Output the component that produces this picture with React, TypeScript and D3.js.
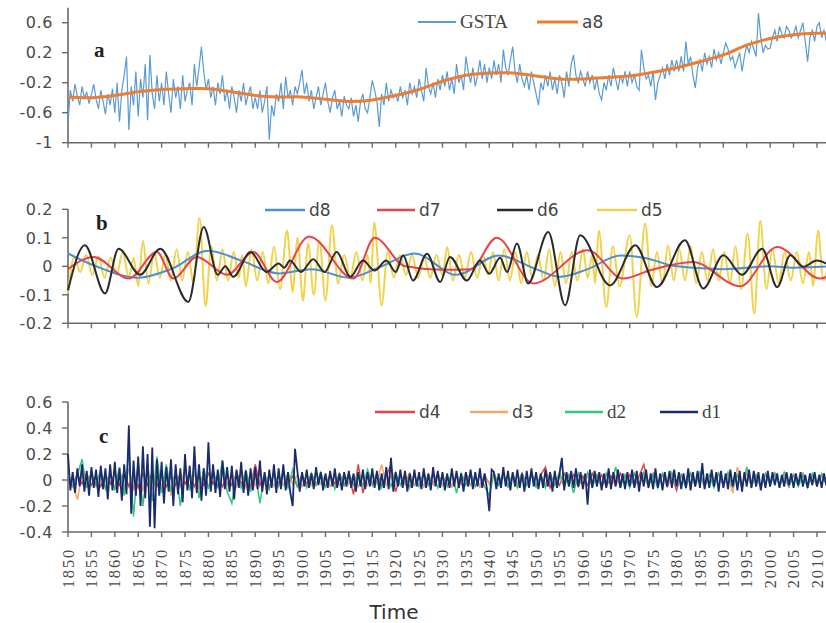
import React from 'react';
import * as d3 from 'd3';

const W = 826;
const H = 623;

// ---------- x axis ----------
const tickYears = d3.range(1850, 2011, 5);

// ---------- panel a ----------
// GSTA anomaly, hundredths of a degree, one value every half year from 1850.0
const gstaHundredths = [
  -74, -30, -45, -22, -38, -50, -25, -40, -33, -48, -36, -22, -42, -55, -30, -45, -62, -35, -50, -28,
  -60, -20, -72, -30, -10, 15, -83, -25, -50, -5, -65, -15, -40, 5, -70, 17, -35, -55, -10, -45,
  -20, -50, -5, -35, -60, -15, -40, -25, -55, -10, -45, -30, -20, -50, 5, -25, 0, 28, -5, -30,
  -15, -40, -25, -50, -20, -35, -10, -45, -30, -55, -25, -40, -60, -30, -45, -20, -50, -35, -25, -55,
  -40, -55, -30, -60, -45, -25, -96, -50, -65, -35, -45, -20, -55, -12, -40, -30, -50, -25, -35, -20,
  -3, -35, -20, -45, -30, -55, -40, -25, -50, -35, -20, -45, -60, -40, -30, -55, -45, -65, -38, -50,
  -55, -40, -65, -50, -72, -45, -35, -55, -60, -40, -17, -30, -45, -79, -35, -50, -20, -45, -30, -40,
  -35, -45, -25, -40, -30, -50, -20, -35, -25, -40, -15, -30, -45, 0, -25, -35, -20, -40, -15, -30,
  -10, -25, -5, -30, -15, -35, 5, -20, -10, -30, 15, -5, -20, 0, -25, -10, 10, -15, 5, -20,
  0, -15, 10, -10, 5, -20, 24, 0, -10, 10, 28, -5, -20, 5, -15, -25, -10, -30, -5, -20,
  -35, -50, -20, -30, -10, -25, -5, -30, -15, -35, -10, -20, -40, -5, -25, 5, 17, -10, -20, -5,
  -15, -25, -5, -20, -10, -30, -15, -35, -43, -20, -30, -10, -25, 0, -15, -30, -10, -20, -5, -25,
  -5, -20, -10, -25, -30, 24, 0, -15, -10, -25, -5, -43, -20, -10, 0, -15, 5, -10, 10, -5,
  10, -5, 15, -5, 35, 5, 15, -10, -27, 0, 10, -5, 20, 5, 15, 0, 25, 10, 20, 5,
  20, 33, 25, 10, 15, 0, 10, 20, -5, 15, 30, 20, 35, 25, 15, 73, 40, 20, 30, 25,
  26, 40, 50, 35, 55, 45, 40, 55, 50, 40, 45, 55, 40, 50, 60, 35, 8, 40, 50, 35,
  55, 60, 40, 50, 35, 45,
];
const a8Years = [1850, 1855, 1860, 1865, 1870, 1875, 1880, 1885, 1890, 1895, 1900, 1905, 1910, 1915, 1920, 1925, 1930, 1935, 1940, 1945, 1950, 1955, 1960, 1965, 1970, 1975, 1980, 1985, 1990, 1995, 2000, 2005, 2010, 2013];
const a8Values = [-0.39, -0.40, -0.37, -0.32, -0.29, -0.28, -0.28, -0.32, -0.37, -0.39, -0.39, -0.42, -0.45, -0.43, -0.37, -0.29, -0.18, -0.10, -0.07, -0.07, -0.11, -0.15, -0.15, -0.13, -0.11, -0.06, 0.00, 0.08, 0.17, 0.30, 0.39, 0.44, 0.46, 0.46];
const aTicks = [-1, -0.6, -0.2, 0.2, 0.6];

// ---------- panel b (turning points: [year, value]) ----------
const d8Points = [
  [1850, 0.045], [1856, 0.0], [1865, -0.04], [1872, -0.01], [1880, 0.055], [1887, 0.02], [1895, -0.025],
  [1902, -0.01], [1910, -0.04], [1917, 0.0], [1924, 0.045], [1933, -0.03], [1942, 0.038], [1950, -0.01],
  [1955, -0.037], [1961, -0.01], [1968, 0.038], [1973, 0.03], [1980, 0.0], [1990, -0.01], [2000, 0.0],
  [2005, -0.005], [2013, 0.0],
];
const d7Points = [
  [1850, -0.01], [1855.5, 0.033], [1863, -0.043], [1869, 0.05], [1872.5, -0.043], [1877.5, 0.033], [1884, -0.03],
  [1889.6, 0.05], [1894.6, -0.055], [1901.5, 0.105], [1911, -0.043], [1915.5, 0.10], [1922, 0.0], [1930, -0.012],
  [1936, -0.01], [1941.6, 0.10], [1949.4, -0.06], [1961, 0.056], [1968.6, -0.043], [1974.4, -0.014],
  [1983.5, 0.015], [1993.6, -0.07], [2001.5, 0.068], [2010.7, -0.043], [2013, -0.03],
];
const d6Points = [
  [1850, -0.084], [1853.6, 0.074], [1857.9, -0.095], [1860.8, 0.062], [1865.4, -0.03], [1869.7, 0.062],
  [1875.7, -0.125], [1879.0, 0.138], [1882.0, -0.03], [1883.6, 0.0], [1885.3, -0.037], [1889.0, 0.05],
  [1892.4, -0.02], [1895.0, 0.01], [1896.2, -0.005], [1897.4, 0.02], [1899.8, -0.02], [1902.4, 0.025],
  [1904.8, -0.02], [1907.4, 0.05], [1910.3, -0.037], [1913.0, 0.02], [1915.5, -0.015], [1918.0, 0.02],
  [1920.0, -0.02], [1921.6, 0.039], [1923.7, -0.05], [1926.7, 0.044], [1929.5, -0.055], [1931.6, 0.033],
  [1935.2, -0.05], [1938.0, 0.02], [1940.0, -0.026], [1942.3, 0.03], [1943.8, -0.02], [1945.9, 0.08],
  [1948.3, -0.06], [1952.6, 0.12], [1956.2, -0.137], [1959.4, 0.109], [1965.8, -0.067], [1971.2, 0.074],
  [1975.8, -0.073], [1981.8, 0.091], [1985.7, -0.078], [1990.0, 0.039], [1994.0, -0.03], [1998.3, 0.062],
  [2001.5, -0.073], [2004.3, 0.039], [2007.0, -0.002], [2010.0, 0.02], [2013.0, 0.0],
];
const d5Points = [
  [1850.0, -0.095], [1851.3, 0.03], [1852.6, -0.02], [1853.9, 0.04], [1855.2, -0.03], [1856.5, 0.035],
  [1857.8, -0.04], [1859.1, 0.03], [1860.4, -0.03], [1861.7, 0.05], [1863.0, -0.04], [1864.0, 0.03],
  [1865.0, -0.07], [1866.0, 0.09], [1867.2, -0.06], [1868.4, 0.05], [1869.6, -0.04], [1870.8, 0.04],
  [1872.0, -0.05], [1873.2, 0.06], [1874.4, -0.05], [1875.6, 0.05], [1876.8, -0.06], [1878.1, 0.17],
  [1879.4, -0.14], [1880.6, 0.07], [1881.8, -0.05], [1883.0, 0.06], [1884.2, -0.05], [1885.4, 0.05],
  [1886.5, -0.04], [1887.2, 0.04], [1888.0, -0.07], [1889.2, 0.06], [1890.4, -0.05], [1891.6, 0.05],
  [1892.8, -0.06], [1894.0, 0.07], [1895.3, -0.08], [1896.8, 0.126], [1898.0, -0.09], [1899.0, 0.10],
  [1900.2, -0.12], [1901.3, 0.08], [1902.5, -0.10], [1903.7, 0.09], [1905.0, -0.12], [1906.4, 0.144],
  [1907.7, -0.06], [1909.0, 0.04], [1910.3, -0.04], [1911.6, 0.05], [1912.9, -0.05], [1914.0, 0.04],
  [1914.7, -0.06], [1915.4, 0.155], [1917.0, -0.137], [1918.3, 0.05], [1919.6, -0.04], [1920.9, 0.04],
  [1922.2, -0.03], [1923.5, 0.04], [1924.8, -0.04], [1926.1, 0.03], [1927.4, -0.04], [1928.7, 0.04],
  [1930.0, -0.03], [1931.0, 0.068], [1932.2, -0.05], [1933.5, 0.04], [1934.8, -0.04], [1936.1, 0.05],
  [1937.4, -0.04], [1938.7, 0.04], [1939.7, -0.03], [1940.8, 0.05], [1942.0, -0.05], [1943.2, 0.06],
  [1944.4, -0.05], [1945.6, 0.05], [1946.8, -0.06], [1948.0, 0.05], [1949.2, -0.04], [1950.4, 0.04],
  [1951.6, -0.05], [1952.8, 0.06], [1954.0, -0.07], [1955.2, 0.05], [1956.4, -0.06], [1957.6, 0.05],
  [1958.8, -0.05], [1960.0, 0.06], [1961.0, -0.04], [1962.0, 0.04], [1962.6, -0.06], [1963.4, 0.126],
  [1965.0, -0.143], [1966.4, 0.07], [1967.8, -0.07], [1970.0, 0.109], [1971.5, -0.178], [1973.3, 0.15],
  [1974.6, -0.07], [1975.8, 0.05], [1977.0, -0.06], [1978.2, 0.074], [1979.4, -0.05], [1980.6, 0.06],
  [1981.8, -0.05], [1983.0, 0.07], [1984.2, -0.06], [1985.4, 0.05], [1986.6, -0.05], [1987.8, 0.06],
  [1989.0, -0.05], [1990.2, 0.05], [1991.4, -0.06], [1992.6, 0.07], [1993.8, -0.08], [1995.2, 0.115],
  [1996.6, -0.166], [1997.9, 0.16], [1999.2, -0.08], [2000.5, 0.06], [2001.8, -0.06], [2003.1, 0.05],
  [2004.4, -0.05], [2005.7, 0.05], [2007.0, -0.06], [2008.3, 0.05], [2009.2, -0.07], [2010.2, 0.126],
  [2011.4, -0.05], [2012.5, 0.02],
];
const bTicks = [-0.2, -0.1, 0, 0.1, 0.2];

// ---------- panel c ----------
// d1: hundredths, one value every half year from 1850.0
const d1Hundredths = [
  20, -8, 6, -10, 9, -5, 12, -9, 7, -12, 10, -6, 8, -13, 11, -7, 9, -15, 12, -8,
  14, -10, 9, -16, 12, -11, 42, -26, 15, -12, 18, -20, 26, -14, 20, -36, 25, -37, 16, -12,
  14, -18, 10, -9, 16, -20, 12, -11, 9, -17, 20, -8, 11, -14, 26, -10, 12, -16, 9, -12,
  29, -9, 12, -10, 8, -13, 15, -7, 10, -9, 11, -15, 8, -6, 14, -10, 7, -12, 9, -8,
  10, -7, 15, -9, 6, -11, 8, -6, 12, -10, 9, -7, 12, -8, 6, -10, -20, 24, 7, -9,
  6, -5, 8, -6, 5, -7, 10, -4, 6, -8, 5, -6, 7, -5, 9, -6, 5, -8, 6, -5,
  7, -6, 5, -9, 6, -5, 8, -7, 6, -5, 9, -6, 7, -8, 5, -6, 10, -7, 17, -9,
  6, -5, 8, -6, 7, -9, 5, -6, 8, -5, 6, -7, 9, -6, 5, -8, 10, -5, 7, -6,
  6, -8, 5, -6, 9, -5, 7, -6, 5, -9, 6, -5, 8, -7, 6, -5, 9, -6, 5, -7,
  -24, 8, 6, -7, 5, -6, 10, -5, 7, -8, 6, -5, 8, -6, 5, -9, 7, -6, 9, -5,
  6, -7, 5, -6, 8, -5, 6, -9, 7, -6, 5, 17, -8, 6, -5, 7, -6, 9, -5, 6,
  -7, 5, -19, 8, -6, 7, -5, 6, -8, 5, -6, 9, -7, 6, -5, 8, -6, 5, -7, 6,
  -5, 8, -6, 7, -9, 6, -5, 8, -6, 5, -7, 9, -6, 5, -8, 6, -5, 7, -6, 8,
  -5, 6, -7, 5, -6, 9, -8, 6, -5, 7, -6, 13, -7, 5, -6, 8, -5, 6, -9, 7,
  -6, 5, -7, 8, -5, 6, -8, 7, -9, 6, -5, 8, -6, 7, -5, 6, -8, 5, -6, 7,
  -5, 6, -4, 5, -6, 4, -5, 6, -4, 5, -6, 5, -4, 6, -5, 4, -6, 5, -4, 6,
  -5, 4, -6, 5, -4, 5,
];
// d2..d4: hundredths, one value per year from 1850
const d2Hundredths = [
  3, -5, 4, 16, -6, 5, -4, 8, -7, 6,
  -8, 10, -12, 22, -28, 14, -20, 12, -16, 18,
  -10, 12, -9, 8, -20, 10, -8, 12, -14, 9,
  -7, 8, -6, 15, -9, -18, 7, -6, 8, -9,
  6, -18, 5, -7, 6, -5, 7, -6, 8, -5,
  4, -6, 5, -4, 6, -5, 4, -7, 5, -4,
  5, -4, 6, -5, 8, -4, 5, -6, 4, -5,
  6, -4, 5, -6, 4, -5, 6, -4, 5, -6,
  4, -5, 6, -10, 5, -4, 6, -5, 4, -5,
  -12, 5, -4, 6, -5, 4, -6, 5, -4, 6,
  -5, 4, -6, 5, -4, 6, -5, 4, -10, 5,
  -4, 6, -5, 4, -6, 5, -4, 10, -5, 4,
  -6, 5, -4, 6, -5, 4, -6, 5, -4, 6,
  -5, 4, -6, 5, -4, 6, -5, 4, -6, 5,
  -4, 6, -5, 4, -6, 10, -5, 4, -6, 5,
  -4, 5, -4, 6, -5, 4, -5, 4, -6, 5,
  -4, 5, -3,
];
const d3Hundredths = [
  4, -3, -15, 5, -4, 6, -5, 4, -6, 5,
  -6, 8, -7, 9, -8, 10, -9, 7, -8, 6,
  -5, 7, -12, 6, -5, 8, -6, 5, -7, 6,
  -5, 4, -6, 5, -4, 6, -5, 4, -6, 5,
  -4, 5, -3, 4, -5, 3, -4, 5, -3, 4,
  -5, 3, -4, 5, -3, 4, -5, 3, -4, 5,
  -3, 4, -5, 3, -4, 5, -3, 12, -4, 3,
  -5, 4, -3, 5, -4, 3, -5, 4, -3, 5,
  -4, 3, -5, 4, -3, 5, -4, 3, -5, 4,
  -3, 5, -4, 3, -5, 4, -3, 5, -4, 3,
  -5, 4, -3, 5, -4, 3, -5, 4, -3, 5,
  -4, 3, -5, 4, -3, 5, -4, 3, -5, 4,
  -3, 5, -4, 3, -5, 4, -3, 5, -4, 3,
  -5, 4, -3, 5, -4, 3, -5, 4, -3, 5,
  -4, 3, -10, 10, -3, 5, -4, 3, -5, 4,
  -3, 5, -4, 3, -5, 4, -3, 5, -4, 3,
  -4, 3, -3,
];
const d4Hundredths = [
  2, -3, 4, -3, 5, -4, 3, -5, 4, -3,
  5, -4, 6, -5, 4, -6, 5, -4, 6, -5,
  4, -5, 3, -4, 5, -3, 4, -5, 3, -4,
  5, -3, 4, -5, 3, -4, 5, -3, 4, -5,
  12, -4, 3, -5, 4, -3, 5, -4, 3, -5,
  4, -3, 5, -4, 3, -5, 4, -3, 5, -4,
  3, -11, 12, -10, 4, -3, 5, -4, 3, 12,
  -9, 4, -3, 5, -4, 3, -5, 4, -3, 5,
  -4, 3, -5, 4, -3, 5, -4, 3, -5, 4,
  -3, 5, -4, 3, -5, 4, -3, 5, -4, 3,
  -5, 4, 10, -6, 3, -4, 5, -3, 4, -5,
  3, -4, 5, -3, 4, -5, 3, -4, 5, -3,
  4, -5, 3, 12, -4, 5, -3, 4, -5, 3,
  -8, 4, -3, 5, -4, 3, -5, 4, -3, 5,
  -4, 3, -5, 4, -3, 5, -4, 3, -5, 4,
  -3, 5, -4, 3, -5, 4, -3, 5, -4, 3,
  -4, 3, -3,
];
const cTicks = [-0.4, -0.2, 0, 0.2, 0.4, 0.6];

// ---------- colours ----------
const C = {
  axis: '#6a6a6a',
  tick: '#4a4a4a',
  gsta: '#5B9BD5',
  a8: '#ED7D31',
  d8: '#4A90D9',
  d7: '#E8434A',
  d6: '#2b2b2b',
  d5: '#F2D24B',
  d4: '#E8434A',
  d3: '#F6A96B',
  d2: '#34C77B',
  d1: '#1B2C6E',
};

// ---------- scales ----------
const x = d3.scaleLinear().domain([1850, 2013]).range([68, 831]);
const yA = d3.scaleLinear().domain([-1, 0.8]).range([142.7, 7.7]);
const yB = d3.scaleLinear().domain([-0.2, 0.2]).range([323.3, 209.3]);
const yC = d3.scaleLinear().domain([-0.4, 0.6]).range([532, 402]);

const seq = (vals: number[], step: number) => vals.map((v, i) => [1850 + i * step, v / 100] as [number, number]);

function linePath(pts: number[][], y: d3.ScaleLinear<number, number>, curve: d3.CurveFactory = d3.curveLinear) {
  return d3.line<number[]>().x((d) => x(d[0])).y((d) => y(d[1])).curve(curve)(pts) || '';
}

const fmt = (v: number) => String(Math.round(v * 10) / 10);

function YAxis({ scale, ticks }: { scale: d3.ScaleLinear<number, number>; ticks: number[] }) {
  const [r0, r1] = scale.range();
  return (
    <g>
      <line x1={68} x2={68} y1={r1} y2={r0} stroke={C.axis} strokeWidth={1.6} />
      {ticks.map((t) => (
        <g key={t}>
          <line x1={62} x2={68} y1={scale(t)} y2={scale(t)} stroke={C.axis} strokeWidth={1.4} />
          <text x={53} y={scale(t)} dy="0.36em" textAnchor="end" fontFamily="DejaVu Sans, sans-serif" fontSize={16} letterSpacing={0.6} fill={C.tick}>
            {fmt(t)}
          </text>
        </g>
      ))}
    </g>
  );
}

function XAxis({ y0, labels }: { y0: number; labels?: boolean }) {
  return (
    <g>
      <line x1={68} x2={W} y1={y0} y2={y0} stroke={C.axis} strokeWidth={1.6} />
      {tickYears.map((yr) => (
        <line key={yr} x1={x(yr)} x2={x(yr)} y1={y0} y2={y0 + 5} stroke={C.axis} strokeWidth={1.4} />
      ))}
      {labels &&
        tickYears.map((yr) => (
          <text
            key={'l' + yr}
            transform={`translate(${x(yr)},${y0 + 16}) rotate(-90)`}
            dy="0.34em"
            textAnchor="end"
            fontFamily="Liberation Serif, serif"
            fontSize={16.5}
            letterSpacing={1.8}
            fill={C.tick}
          >
            {yr}
          </text>
        ))}
    </g>
  );
}

function LegendItem({ x1, x2, y, color, label, serif, w = 2.5 }: { x1: number; x2: number; y: number; color: string; label: string; serif?: boolean; w?: number }) {
  return (
    <g>
      <line x1={x1} x2={x2} y1={y} y2={y} stroke={color} strokeWidth={w} />
      <text x={x2 + 4} y={y + 6} fontFamily={serif ? 'Liberation Serif, serif' : 'DejaVu Sans, sans-serif'} fontSize={serif ? 19 : 17} fill="#444">
        {label}
      </text>
    </g>
  );
}

export default function App() {
  const gsta = seq(gstaHundredths, 0.5);
  const a8 = a8Years.map((yr, i) => [yr, a8Values[i]]);
  const d1 = seq(d1Hundredths, 0.5);
  const d2 = seq(d2Hundredths, 1);
  const d3s = seq(d3Hundredths, 1);
  const d4 = seq(d4Hundredths, 1);
  const smooth = d3.curveMonotoneX;

  return (
    <svg width={W} height={H} style={{ position: 'absolute', left: 0, top: 0, background: '#fff' }}>
      {/* panel a */}
      <XAxis y0={yA(-1)} />
      <YAxis scale={yA} ticks={aTicks} />
      <path d={linePath(gsta, yA)} fill="none" stroke={C.gsta} strokeWidth={1.2} />
      <path d={linePath(a8, yA, d3.curveCatmullRom)} fill="none" stroke={C.a8} strokeWidth={3} />
      <text x={94} y={57} fontFamily="Liberation Serif, serif" fontWeight="bold" fontSize={21} fill="#222">a</text>
      <LegendItem x1={418} x2={456} y={22} color={C.gsta} label="GSTA" serif w={2} />
      <LegendItem x1={537} x2={578} y={22} color={C.a8} label="a8" w={3} />

      {/* panel b */}
      <XAxis y0={yB(-0.2)} />
      <YAxis scale={yB} ticks={bTicks} />
      <path d={linePath(d5Points, yB, smooth)} fill="none" stroke={C.d5} strokeWidth={2} />
      <path d={linePath(d8Points, yB, smooth)} fill="none" stroke={C.d8} strokeWidth={2} />
      <path d={linePath(d7Points, yB, smooth)} fill="none" stroke={C.d7} strokeWidth={2} />
      <path d={linePath(d6Points, yB, smooth)} fill="none" stroke={C.d6} strokeWidth={2} />
      <text x={96} y={230} fontFamily="Liberation Serif, serif" fontWeight="bold" fontSize={21} fill="#222">b</text>
      <LegendItem x1={265} x2={305} y={210} color={C.d8} label="d8" />
      <LegendItem x1={377} x2={415} y={210} color={C.d7} label="d7" />
      <LegendItem x1={497} x2={533} y={210} color={C.d6} label="d6" />
      <LegendItem x1={597} x2={637} y={210} color={C.d5} label="d5" />

      {/* panel c */}
      <XAxis y0={yC(-0.4)} labels />
      <YAxis scale={yC} ticks={cTicks} />
      <path d={linePath(d4, yC)} fill="none" stroke={C.d4} strokeWidth={1.5} />
      <path d={linePath(d3s, yC)} fill="none" stroke={C.d3} strokeWidth={1.5} />
      <path d={linePath(d2, yC)} fill="none" stroke={C.d2} strokeWidth={1.5} />
      <path d={linePath(d1, yC)} fill="none" stroke={C.d1} strokeWidth={1.8} />
      <text x={99} y={443} fontFamily="Liberation Serif, serif" fontWeight="bold" fontSize={21} fill="#222">c</text>
      <LegendItem x1={375} x2={415} y={412} color={C.d4} label="d4" />
      <LegendItem x1={470} x2={508} y={412} color={C.d3} label="d3" />
      <LegendItem x1={565} x2={603} y={412} color={C.d2} label="d2" serif />
      <LegendItem x1={660} x2={698} y={412} color={C.d1} label="d1" serif />

      <text x={394} y={619} textAnchor="middle" fontFamily="DejaVu Sans, sans-serif" fontSize={20} fill="#333">Time</text>
    </svg>
  );
}
